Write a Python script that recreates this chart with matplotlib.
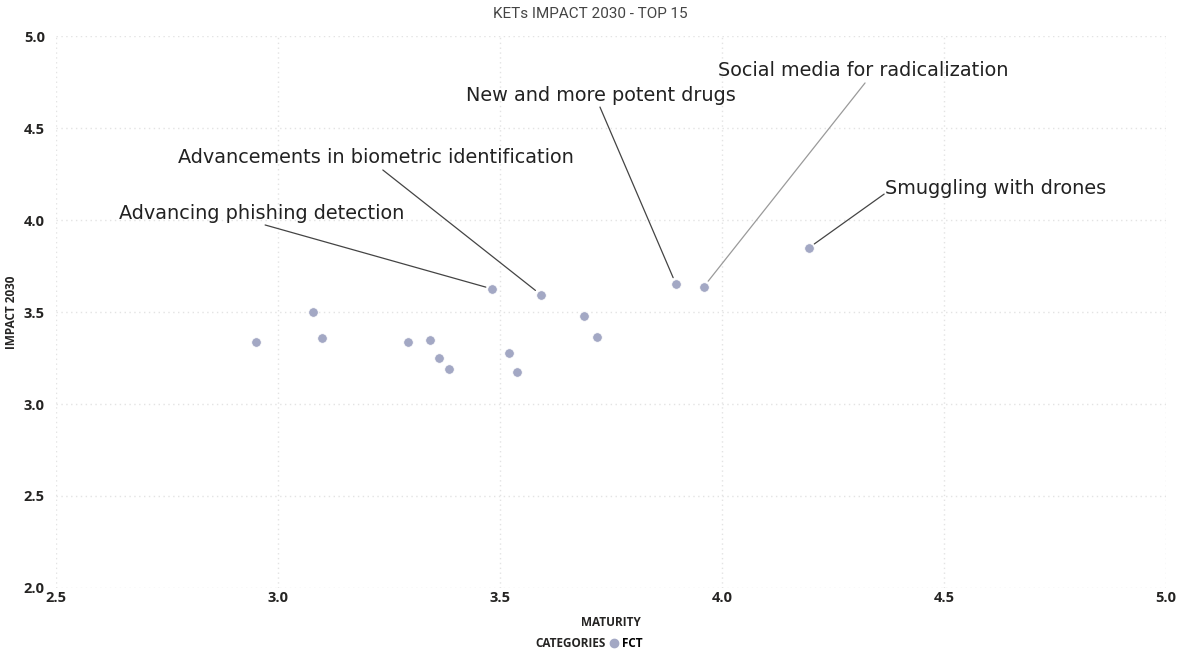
import matplotlib.pyplot as plt
from matplotlib.lines import Line2D

# maturity vs impact for the top KETs
maturity = [2.950, 3.078, 3.098, 3.293, 3.343, 3.363, 3.384, 3.483,
            3.520, 3.538, 3.592, 3.690, 3.718, 3.896, 3.959, 4.195]
impact = [3.335, 3.500, 3.360, 3.335, 3.349, 3.252, 3.192, 3.625,
          3.279, 3.176, 3.594, 3.480, 3.364, 3.652, 3.638, 3.848]

labels = ["Advancing phishing detection",
          "Advancements in biometric identification",
          "New and more potent drugs",
          "Social media for radicalization",
          "Smuggling with drones"]
label_idx = [7, 10, 13, 14, 15]

x_ticks = [2.5, 3.0, 3.5, 4.0, 4.5, 5.0]
y_ticks = [2.0, 2.5, 3.0, 3.5, 4.0, 4.5, 5.0]

# text anchor (left, middle) and leader line start, data units
text_pos = [(2.642, 4.038), (2.775, 4.342), (3.423, 4.679), (3.991, 4.815), (4.367, 4.174)]
line_from = [(2.971, 3.973), (3.236, 4.272), (3.725, 4.614), (4.322, 4.745), (4.365, 4.141)]
line_col = ['#444444', '#444444', '#444444', '#9a9a9a', '#444444']

dot = '#a3a8c4'
tick_font = 'Open Sans'

fig = plt.figure(figsize=(11.81, 6.55), dpi=100)
ax = fig.add_axes([0.0474, 0.1023, 0.94, 0.8427])

ax.scatter(maturity, impact, s=48, color=dot, edgecolors='white', linewidths=0.6, zorder=3)

for lab, i, tp, lf, lc in zip(labels, label_idx, text_pos, line_from, line_col):
    ax.annotate('', xy=(maturity[i], impact[i]), xytext=lf,
                arrowprops=dict(arrowstyle='-', color=lc, lw=0.9, shrinkA=0, shrinkB=5))
    ax.text(tp[0], tp[1], lab, ha='left', va='center', fontsize=13.9,
            family='DejaVu Sans', color='#222222')

ax.set_xlim(2.5, 5.0)
ax.set_ylim(2.0, 5.0)
ax.set_xticks(x_ticks)
ax.set_yticks(y_ticks)
ax.set_xticklabels([f'{v:.1f}' for v in x_ticks], fontsize=10.5, fontweight='bold',
                   family=tick_font, color='#252423')
ax.set_yticklabels([f'{v:.1f}' for v in y_ticks], fontsize=10.5, fontweight='bold',
                   family=tick_font, color='#252423')
ax.tick_params(length=0, pad=2)
ax.tick_params(axis='y', pad=8)
for s in ax.spines.values():
    s.set_visible(False)
ax.grid(True, color='#e3e3e3', linestyle=(0, (1, 2.5)), linewidth=1)
ax.set_axisbelow(True)

ax.set_xlabel('MATURITY', fontsize=8.5, fontweight='bold', family=tick_font,
              color='#252423', labelpad=8)
ax.set_ylabel('IMPACT 2030', fontsize=8.5, fontweight='bold', family=tick_font,
              color='#252423', labelpad=4)

fig.text(0.5, 0.978, 'KETs IMPACT 2030 - TOP 15', ha='center', va='center',
         fontsize=11, family='Roboto', color='#444444')

# legend row under the x label
fig.text(0.513, 0.017, 'CATEGORIES', ha='right', va='center', fontsize=8.5,
         fontweight='bold', family=tick_font, color='#252423')
fig.legend(handles=[Line2D([], [], marker='o', linestyle='', color=dot, markersize=6)],
           labels=['FCT'], loc='center left', bbox_to_anchor=(0.516, 0.017), frameon=False,
           handletextpad=0.35, borderpad=0, borderaxespad=0, handlelength=0.7,
           prop=dict(family=tick_font, weight='bold', size=8.5))

fig.savefig('out.png', dpi=100)
